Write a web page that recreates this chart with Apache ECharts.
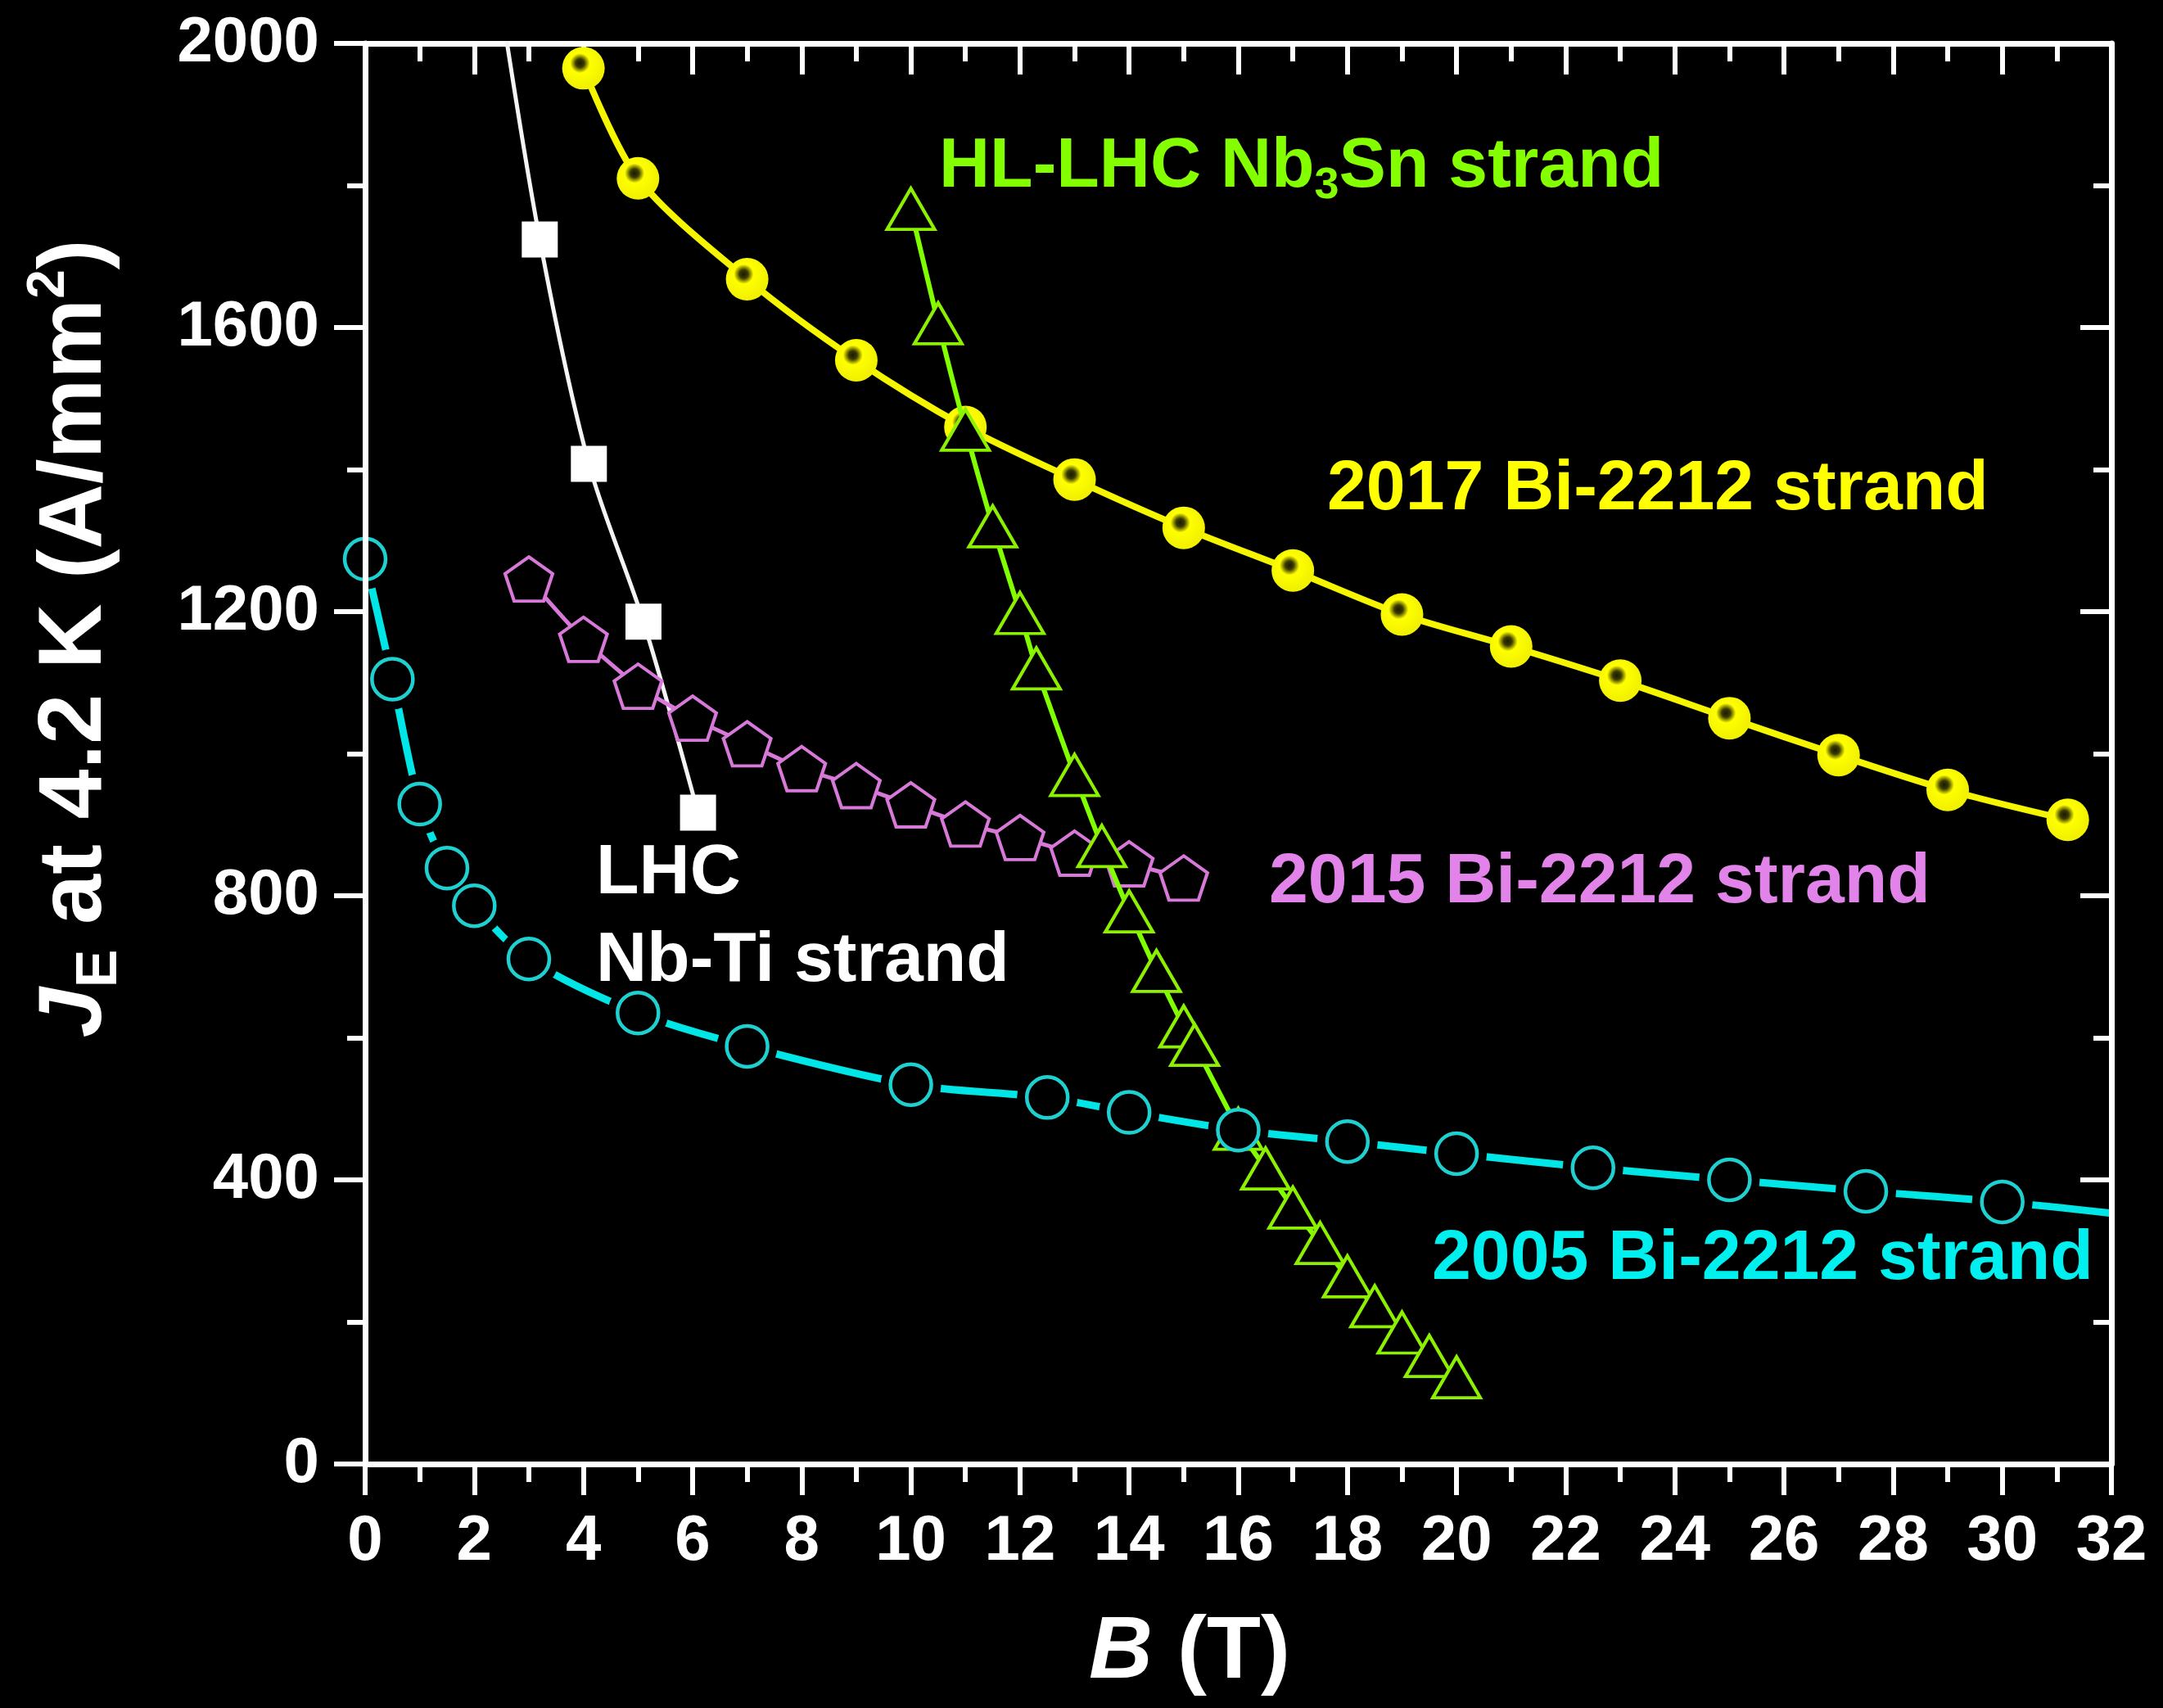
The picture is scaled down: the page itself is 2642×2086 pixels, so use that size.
<!DOCTYPE html>
<html>
<head>
<meta charset="utf-8">
<title>JE at 4.2 K vs B</title>
<script src="https://cdn.jsdelivr.net/npm/echarts@6/dist/echarts.min.js"></script>
<style>
  html, body { margin: 0; padding: 0; background: #000; }
  #chart { width: 2642px; height: 2086px; }
</style>
</head>
<body>
<div id="chart"></div>
<script>
// B (T) / JE (A/mm2)
// LHC Nb-Ti: first point is only where the fitted curve leaves the top of the frame (no marker)
const lhcB = [2.4, 3.2, 4.1, 5.1, 6.1]
const lhcJ = [2100, 1724, 1408, 1186, 917]

const b2015 = [3, 4, 5, 6, 7, 8, 9, 10, 11, 12, 13, 14, 15]
const j2015 = [1246, 1161, 1095, 1050, 1014, 979, 955, 928, 901, 882, 860, 845, 825]

const b2017 = [4, 5, 7, 9, 11, 13, 15, 17, 19, 21, 23, 25, 27, 29, 31.2]
const j2017 = [1965, 1810, 1668, 1554, 1460, 1386, 1318, 1258, 1196, 1151, 1103, 1050, 998, 949, 907]

const bHL = [10, 10.5, 11, 11.5, 12, 12.3, 13, 13.5, 14, 14.5, 15, 15.2, 16, 16.5, 17, 17.5, 18, 18.5, 19, 19.5, 20]
const jHL = [1767, 1606, 1456, 1320, 1198, 1120, 970, 870, 778, 694, 616, 590, 472, 416, 361, 311, 264, 222, 185, 152, 122]

// 2005: last point is the curve end at the right frame (no marker)
const b2005 = [0, 0.5, 1, 1.5, 2, 3, 5, 7, 10, 12.5, 14, 16, 18, 20, 22.5, 25, 27.5, 30, 32]
const j2005 = [1274, 1105, 929, 839, 786, 711, 635, 588, 534, 516, 495, 470, 454, 437, 417, 400, 384, 369, 353]

const xMin = 0, xMax = 32, xStep = 2
const yMin = 0, yMax = 2000, yStep = 400

const FONT = "'Liberation Sans', Arial, Helvetica, sans-serif"
const pentagon = 'path://M50 0 L97.55 34.55 L79.39 90.45 L20.61 90.45 L2.45 34.55 Z'

const pairs = (xs, ys) => xs.map((x, i) => [x, ys[i]])

// curve end points without a marker
const lhcData = pairs(lhcB, lhcJ).map((p, i) => i === 0 ? { value: p, symbol: 'none' } : p)
const line2005 = pairs(b2005, j2005)
const marks2005 = line2005.slice(0, -1)

const axisLine = { show: true, onZero: false, lineStyle: { color: '#fff', width: 7 } }
const tick = (inside) => ({ show: true, inside: inside, length: 38, lineStyle: { color: '#fff', width: 6 } })
const minor = { show: true, splitNumber: 2, length: 22, lineStyle: { color: '#fff', width: 6 } }
const tickLabel = { color: '#fff', fontSize: 78, fontWeight: 'bold', fontFamily: FONT, formatter: v => String(v) }

function xAxisDef(pos, labels) {
  return {
    type: 'value', position: pos, min: xMin, max: xMax, interval: xStep,
    z: pos === 'top' ? 1 : 10, // top frame sits under the markers
    axisLine: axisLine,
    axisTick: tick(pos === 'top'),
    minorTick: minor,
    splitLine: { show: false }, minorSplitLine: { show: false },
    axisLabel: labels ? Object.assign({ margin: 56 }, tickLabel) : { show: false }
  }
}
function yAxisDef(pos, labels) {
  return {
    type: 'value', position: pos, min: yMin, max: yMax, interval: yStep, z: 10,
    axisLine: axisLine,
    axisTick: tick(pos === 'right'),
    minorTick: minor,
    splitLine: { show: false }, minorSplitLine: { show: false },
    axisLabel: labels ? Object.assign({ margin: 56 }, tickLabel) : { show: false }
  }
}

const ballColor = {
  type: 'radial', x: 0.42, y: 0.38, r: 0.55,
  colorStops: [
    { offset: 0, color: '#1a1a00' },
    { offset: 0.18, color: '#3a3a00' },
    { offset: 0.42, color: '#ffff00' },
    { offset: 1, color: '#f2f200' }
  ]
}

function note(text, x, y, color, rich) {
  return {
    type: 'text', x: x, y: y, silent: true, z: 50,
    style: {
      text: text, fill: color,
      fontSize: 86, fontWeight: 'bold', fontFamily: FONT, lineHeight: 100,
      align: 'left', verticalAlign: 'middle',
      textAlign: 'left', textVerticalAlign: 'middle',
      rich: rich || {}
    }
  }
}

const option = {
  backgroundColor: '#000',
  animation: false,
  grid: { left: 446, right: 63, top: 53, bottom: 298, containLabel: false, outerBoundsMode: 'none' },
  xAxis: [xAxisDef('bottom', true), xAxisDef('top', false)],
  yAxis: [yAxisDef('left', true), yAxisDef('right', false)],
  series: [
    {
      name: 'LHC Nb-Ti strand', type: 'line', data: lhcData, smooth: 0.3, z: 2,
      symbol: 'rect', symbolSize: 44,
      itemStyle: { color: '#fff' },
      lineStyle: { color: '#f4f4f4', width: 5 }
    },
    {
      name: '2015 Bi-2212 strand', type: 'line', data: pairs(b2015, j2015), smooth: 0.2, z: 3,
      symbol: pentagon, symbolSize: [58, 54],
      itemStyle: { color: '#000', borderColor: '#d878d8', borderWidth: 4 },
      lineStyle: { color: '#d878d8', width: 5 }
    },
    {
      name: '2017 Bi-2212 strand', type: 'line', data: pairs(b2017, j2017), smooth: 0.3, z: 4,
      symbol: 'circle', symbolSize: 52,
      itemStyle: { color: ballColor },
      lineStyle: { color: '#f5f500', width: 8 }
    },
    {
      name: '2005 Bi-2212 strand (line)', type: 'line', data: line2005, smooth: 0.3, z: 5,
      symbol: 'none',
      lineStyle: { color: '#00e6e6', width: 9 }
    },
    {
      // black halo round the 2005 markers, so the line breaks as in the original
      name: '2005 gap', type: 'scatter', data: marks2005, z: 6,
      symbol: 'circle', symbolSize: 74,
      itemStyle: { color: '#000', opacity: 1 }
    },
    {
      name: 'HL-LHC Nb3Sn strand', type: 'line', data: pairs(bHL, jHL), smooth: 0.15, z: 7,
      symbol: 'triangle', symbolSize: [58, 50],
      itemStyle: { color: '#000', borderColor: '#8cf000', borderWidth: 4 },
      lineStyle: { color: '#80ff00', width: 6 }
    },
    {
      name: '2005 Bi-2212 strand', type: 'scatter', data: marks2005, z: 8,
      symbol: 'circle', symbolSize: 50,
      itemStyle: { color: '#000', opacity: 1, borderColor: '#1fd0d0', borderWidth: 4.5 }
    }
  ],
  graphic: [
    {
      type: 'text', x: 93, y: 780, rotation: Math.PI / 2, silent: true,
      style: {
        text: '{j|J}{sub|E} at 4.2 K (A/mm{sup|2})',
        fill: '#fff', fontSize: 110, fontWeight: 'bold', fontFamily: FONT, lineHeight: 130,
        align: 'center', verticalAlign: 'middle',
        textAlign: 'center', textVerticalAlign: 'middle',
        rich: {
          j: { fontSize: 110, fontWeight: 'bold', fontStyle: 'italic', fontFamily: FONT, fill: '#fff', lineHeight: 130 },
          sub: { fontSize: 70, fontWeight: 'bold', fontFamily: FONT, fill: '#fff', lineHeight: 24, verticalAlign: 'bottom' },
          sup: { fontSize: 64, fontWeight: 'bold', fontFamily: FONT, fill: '#fff', lineHeight: 54, verticalAlign: 'top' }
        }
      }
    },
    {
      type: 'text', x: 1453, y: 2019, silent: true,
      style: {
        text: '{b|B} (T)',
        fill: '#fff', fontSize: 108, fontWeight: 'bold', fontFamily: FONT, lineHeight: 130,
        align: 'center', verticalAlign: 'middle',
        textAlign: 'center', textVerticalAlign: 'middle',
        rich: {
          b: { fontSize: 108, fontWeight: 'bold', fontStyle: 'italic', fontFamily: FONT, fill: '#fff', lineHeight: 130 }
        }
      }
    },
    note('HL-LHC Nb{s|3}Sn strand', 1147, 204, '#84ff00', {
      s: { fontSize: 54, fontWeight: 'bold', fontFamily: FONT, fill: '#84ff00', lineHeight: 22, verticalAlign: 'bottom' }
    }),
    note('2017 Bi-2212 strand', 1621, 598, '#ffff00'),
    note('2015 Bi-2212 strand', 1550, 1078, '#e283ea'),
    note('2005 Bi-2212 strand', 1749, 1538, '#00f0f0'),
    note('LHC', 728, 1067, '#fff'),
    note('Nb-Ti strand', 728, 1174, '#fff')
  ]
}

const chart = echarts.init(document.getElementById('chart'))
chart.setOption(option)
window.addEventListener('resize', () => chart.resize())
</script>
</body>
</html>
